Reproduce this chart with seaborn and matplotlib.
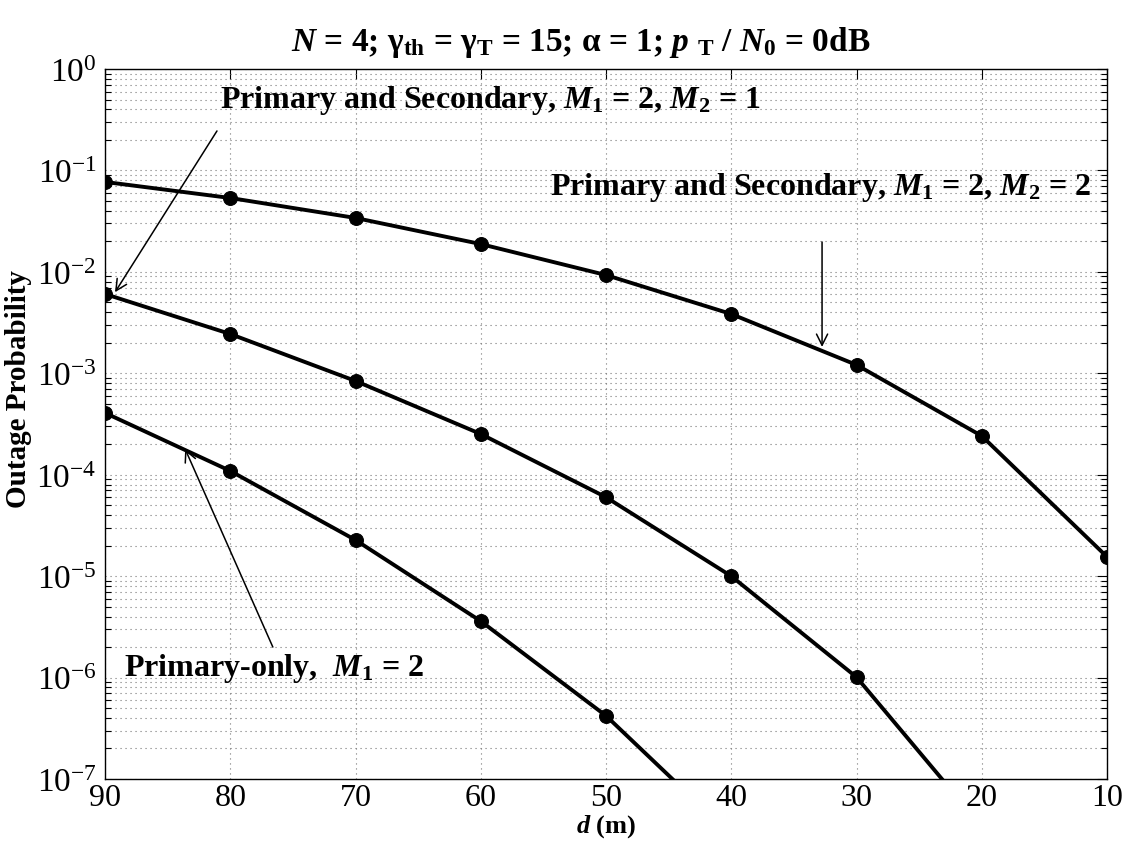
import numpy as np
import pandas as pd
import matplotlib
matplotlib.use("Agg")
import matplotlib.pyplot as plt
import seaborn as sns
from matplotlib.ticker import LogLocator, FixedLocator, NullFormatter

# ---- data ----
d_vals = [90, 80, 70, 60, 50, 40, 30, 20, 10]
ps_m2_2 = [0.077, 0.0535, 0.034, 0.0188, 0.0093, 0.00384, 0.00121, 0.000241, 1.55e-5]
ps_m2_1 = [0.00605, 0.00244, 0.00084, 0.000252, 6.0e-5, 1.0e-5, 1.01e-6, 3.4e-8]
p_only = [0.000407, 0.000109, 2.27e-5, 3.6e-6, 4.2e-7, 2.8e-8]
x_ticks = [90, 80, 70, 60, 50, 40, 30, 20, 10]

sns.set_theme(style="white")
plt.rcParams['font.family'] = ['Liberation Serif', 'DejaVu Serif']
plt.rcParams['text.color'] = 'black'
plt.rcParams['axes.labelcolor'] = 'black'
plt.rcParams['xtick.color'] = 'black'
plt.rcParams['ytick.color'] = 'black'
plt.rcParams['mathtext.fontset'] = 'custom'
plt.rcParams['mathtext.rm'] = 'Liberation Serif'
plt.rcParams['mathtext.bf'] = 'Liberation Serif:bold'
plt.rcParams['mathtext.it'] = 'Liberation Serif:italic'
plt.rcParams['mathtext.bfit'] = 'Liberation Serif:italic:bold'

fig = plt.figure(figsize=(11.26, 8.45), dpi=100)
ax = fig.add_axes([105/1126, 1-780/845, (1107-105)/1126, (780-70)/845])

series = [ps_m2_2, ps_m2_1, p_only]
for vals in series:
    sns.lineplot(x=d_vals[:len(vals)], y=vals, ax=ax, color='black', lw=2.8,
                 marker='o', markersize=10, markeredgecolor='black', sort=False)

ax.set_yscale('log')
ax.set_ylim(1e-7, 1)
ax.set_xlim(90, 10)
ax.xaxis.set_major_locator(FixedLocator(x_ticks))
ax.set_xticklabels([str(v) for v in x_ticks])
ax.yaxis.set_minor_locator(LogLocator(base=10, subs=np.arange(2, 10), numticks=20))
ax.yaxis.set_minor_formatter(NullFormatter())
ax.set_yticks([10.0**k for k in range(-7, 1)])
ax.set_yticklabels([r"10$^{%d}$" % k for k in range(-7, 1)])

grid_kw = dict(linestyle=(0, (1, 3.5)), color='#777777', lw=0.8)
ax.grid(True, which='major', axis='both', **grid_kw)
ax.grid(True, which='minor', axis='y', **grid_kw)
ax.tick_params(axis='both', which='major', direction='in', length=7, width=0.8,
               top=True, right=True, labelsize=24, pad=4)
ax.tick_params(axis='x', which='major', pad=3, labelsize=23)
ax.tick_params(axis='y', which='major', pad=6)
ax.tick_params(axis='y', which='minor', direction='in', length=4, width=0.8,
               left=True, right=True)
for s in ax.spines.values():
    s.set_color('black')
    s.set_linewidth(1.0)

ax.set_xlabel(r"$\mathbfit{d}$ (m)", fontsize=19, fontweight='bold', labelpad=0)
ax.set_ylabel("Outage Probability", fontsize=21, fontweight='bold')
ax.yaxis.set_label_coords(-0.073, 0.55)
ax.set_title(r"$\mathbfit{N}$ = 4; γ$_{\mathbf{th}}$ = γ$_{\mathbf{T}}$ = 15; α = 1; "
             r"$\mathbfit{p}$ $_{\mathbf{T}}$ / $\mathbfit{N}$$_{\mathbf{0}}$ = 0dB",
             fontsize=24, fontweight='bold', pad=14, x=0.475)

fs = 23
ax.text(80.8, 0.5, r"Primary and Secondary, $\mathbfit{M}$$_{\mathbf{1}}$ = 2, $\mathbfit{M}$$_{\mathbf{2}}$ = 1",
        fontsize=fs, fontweight='bold', ha='left', va='center')
ax.text(54.5, 0.07, r"Primary and Secondary, $\mathbfit{M}$$_{\mathbf{1}}$ = 2, $\mathbfit{M}$$_{\mathbf{2}}$ = 2",
        fontsize=fs, fontweight='bold', ha='left', va='center')
ax.text(88.5, 1.27e-6, r"Primary-only,  $\mathbfit{M}$$_{\mathbf{1}}$ = 2",
        fontsize=fs, fontweight='bold', ha='left', va='center')

arrow = dict(arrowstyle='->', color='black', lw=1.1, mutation_scale=20, shrinkA=0, shrinkB=0)
ax.annotate("", xy=(89.2, 6.3e-3), xytext=(81.06, 0.245), arrowprops=arrow)
ax.annotate("", xy=(32.75, 1.82e-3), xytext=(32.75, 0.0197), arrowprops=arrow)
ax.annotate("", xy=(83.6, 1.79e-4), xytext=(76.6, 2.0e-6), arrowprops=arrow)

fig.savefig("out.png", dpi=100)
